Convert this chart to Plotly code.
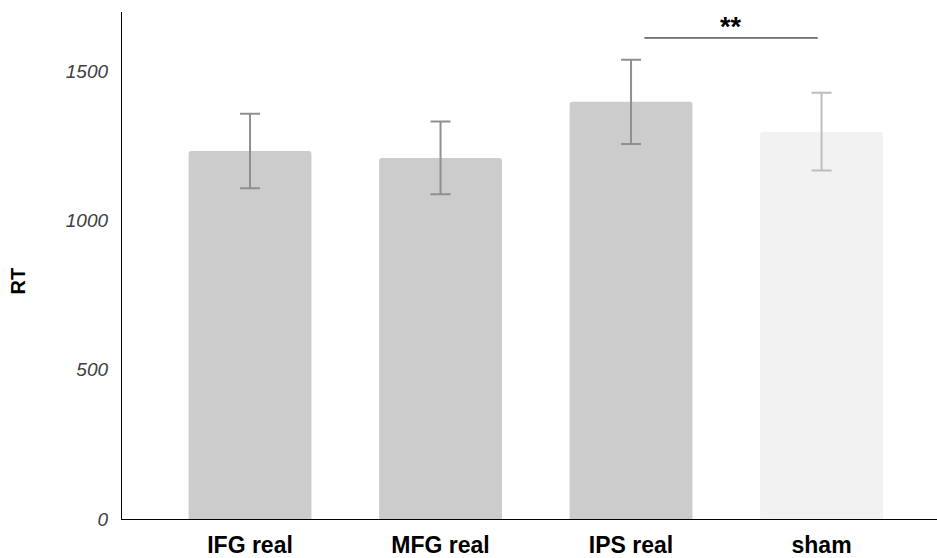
import plotly.graph_objects as go

# Mean reaction times (ms) with error bars per stimulation condition
real_conditions = ["IFG real", "MFG real", "IPS real"]
real_rt = [1233, 1210, 1398]
real_err = [125, 122, 141]

sham_conditions = ["sham"]
sham_rt = [1298]
sham_err = [130]

category_order = real_conditions + sham_conditions
y_ticks = [0, 500, 1000, 1500]

# Significance bracket between IPS real and sham
sig_x = [2.07, 2.98]
sig_y = 1612
sig_label = "**"

FONT = "Liberation Sans, Arial, sans-serif"

fig = go.Figure()

fig.add_trace(go.Bar(
    x=real_conditions, y=real_rt,
    marker=dict(color="#cccccc", line=dict(width=0)),
    width=0.645,
    error_y=dict(type="data", array=real_err, visible=True,
                 color="#8f8f8f", thickness=2, width=10),
    showlegend=False,
))
fig.add_trace(go.Bar(
    x=sham_conditions, y=sham_rt,
    marker=dict(color="#f2f2f2", line=dict(width=0)),
    width=0.645,
    error_y=dict(type="data", array=sham_err, visible=True,
                 color="#bdbdbd", thickness=2, width=10),
    showlegend=False,
))

fig.add_shape(type="line", xref="x", yref="y",
              x0=sig_x[0], x1=sig_x[1], y0=sig_y, y1=sig_y,
              line=dict(color="black", width=1))
fig.add_annotation(x=(sig_x[0] + sig_x[1]) / 2, y=sig_y, xref="x", yref="y",
                   text=f"<b>{sig_label}</b>", showarrow=False, yanchor="bottom",
                   yshift=-6, font=dict(family=FONT, size=27, color="black"))

fig.add_annotation(x=-0.128, y=0.47, xref="paper", yref="paper", xanchor="center",
                   yanchor="middle",
                   text="<b>RT</b>", showarrow=False, textangle=-90,
                   font=dict(family=FONT, size=20, color="black"))

fig.update_layout(
    width=937, height=558,
    margin=dict(l=122, r=0, t=12, b=35),
    plot_bgcolor="white", paper_bgcolor="white",
    barmode="overlay",
    barcornerradius=3,
    xaxis=dict(
        categoryorder="array", categoryarray=category_order,
        range=[-0.672, 3.606],
        showline=True, linecolor="black", linewidth=1.3,
        showgrid=False, ticks="", zeroline=False,
        tickfont=dict(family=FONT, size=23, color="black", weight="bold"),
        ticklabelstandoff=5,
    ),
    yaxis=dict(
        range=[0, 1699],
        tickvals=y_ticks, ticktext=[str(v) for v in y_ticks],
        showline=True, linecolor="black", linewidth=1.3,
        showgrid=False, ticks="", zeroline=False,
        tickfont=dict(family=FONT, size=19, color="#404040", style="italic"),
        ticklabelstandoff=9,
    ),
)

fig.write_html("out.html")
